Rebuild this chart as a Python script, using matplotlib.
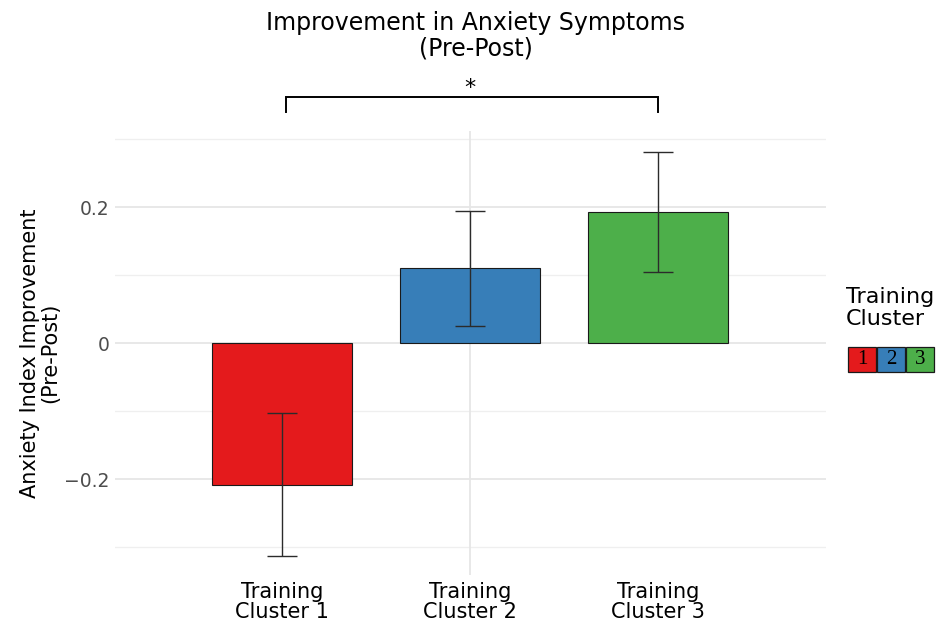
import matplotlib.pyplot as plt
from matplotlib.patches import Rectangle
import numpy as np

plt.rcParams['font.family'] = ['DejaVu Sans']

# mean pre-post improvement and standard error per cluster
clusters = ['Training\nCluster 1', 'Training\nCluster 2', 'Training\nCluster 3']
keys = ['1', '2', '3']
means = [-0.208, 0.110, 0.193]
errs = [0.105, 0.085, 0.088]
colors = ['#E41A1C', '#377EB8', '#4DAF4A']

major_y = [-0.2, 0.0, 0.2]
major_lbl = ['\u22120.2', '0', '0.2']
minor_y = [-0.3, -0.1, 0.1, 0.3]

fig = plt.figure(figsize=(9.39, 6.31), dpi=100)
ax = fig.add_axes([0.1225, 0.0887, 0.7572, 0.7037])

x = np.arange(1, len(means) + 1)
ax.bar(x, means, width=0.745, color=colors, edgecolor='#1a1a1a', linewidth=0.8, zorder=2)
ax.errorbar(x, means, yerr=errs, fmt='none', ecolor='#2b2b2b', elinewidth=1.0,
            capsize=10.8, capthick=1.0, zorder=3)

ax.set_xlim(0.112, 3.894)
ax.set_ylim(-0.341, 0.312)

# grid
for v in major_y:
    ax.axhline(v, color='#e6e6e6', lw=1.3, zorder=0)
for v in minor_y:
    ax.axhline(v, color='#efefef', lw=0.9, zorder=0)
ax.axvline(2, color='#e6e6e6', lw=1.3, zorder=0)

ax.set_yticks(major_y)
ax.set_yticklabels(major_lbl)
ax.set_xticks(x)
ax.set_xticklabels(clusters, linespacing=1.0)
ax.tick_params(axis='y', length=0, pad=4, labelsize=13.5, labelcolor='#4d4d4d')
ax.tick_params(axis='x', length=0, pad=5, labelsize=15, labelcolor='black')
for s in ax.spines.values():
    s.set_visible(False)

ax.set_ylabel('Anxiety Index Improvement\n(Pre-Post)', fontsize=15, labelpad=3,
              linespacing=1.0)

# significance bracket between cluster 1 and 3
ax.plot([1.02, 1.02, 3.0, 3.0], [0.340, 0.362, 0.362, 0.340], color='black', lw=1.4,
        clip_on=False, solid_joinstyle='miter')
ax.text(2.0, 0.367, '*', ha='center', va='baseline', fontsize=16, clip_on=False)

fig.text(476 / 939, 1 - 11 / 631, 'Improvement in Anxiety Symptoms\n(Pre-Post)',
         ha='center', va='top', fontsize=17, linespacing=1.1)

# legend
fig.text(846 / 939, 1 - 308 / 631, 'Training\nCluster', ha='left', va='center',
         fontsize=16, linespacing=1.15)
for i, (k, c) in enumerate(zip(keys, colors)):
    x0 = (848 + 29 * i) / 939
    fig.patches.append(Rectangle((x0, 1 - 372 / 631), 28 / 939, 25 / 631,
                                 transform=fig.transFigure, facecolor=c,
                                 edgecolor='#1a1a1a', lw=0.9))
    fig.text(x0 + 14 / 939, 1 - 360 / 631, k, ha='center', va='center',
             fontsize=15, family='Liberation Serif')

fig.savefig('out.png', dpi=100)
